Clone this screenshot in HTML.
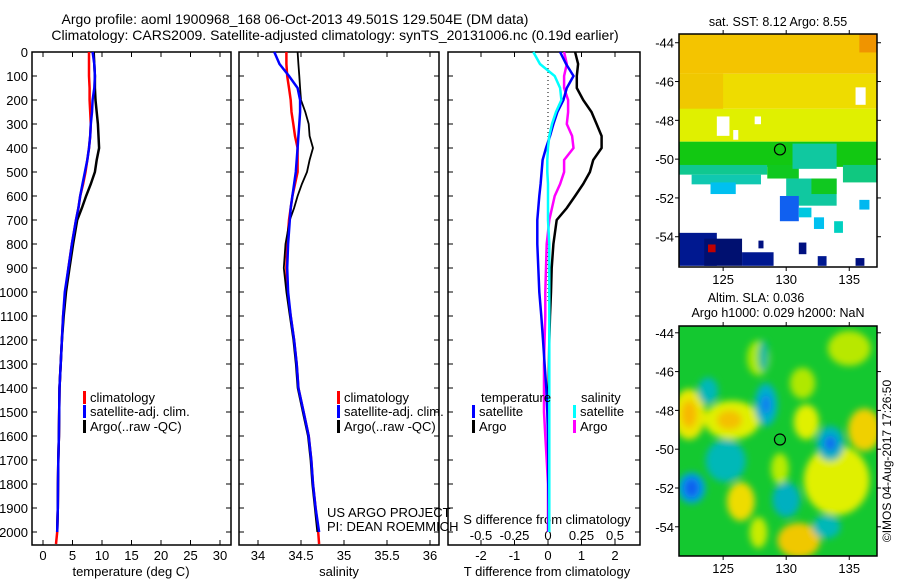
<!DOCTYPE html>
<html><head><meta charset="utf-8"><style>
html,body{margin:0;padding:0;background:#fff;}
svg{display:block;font-family:"Liberation Sans",sans-serif;}
text{font-size:13px;fill:#000;}
</style></head><body>
<svg id="fig" width="900" height="580" viewBox="0 0 900 580" xmlns="http://www.w3.org/2000/svg">
<defs>
<filter id="blur" x="-50%" y="-50%" width="200%" height="200%"><feGaussianBlur stdDeviation="3.5"/></filter>
<clipPath id="clipTop"><rect x="679" y="34" width="198" height="233"/></clipPath>
<clipPath id="clipBot"><rect x="679" y="326" width="198" height="230"/></clipPath>
</defs>
<text x="295" y="24" text-anchor="middle" style="font-size:14px">Argo profile: aoml 1900968_168 06-Oct-2013 49.501S 129.504E (DM data)</text>
<text x="335" y="40" text-anchor="middle" style="font-size:14px">Climatology: CARS2009. Satellite-adjusted climatology: synTS_20131006.nc (0.19d earlier)</text>
</svg>
<script>
// ---- data ----
const depths = [0,50,100,150,200,250,300,350,400,450,500,550,600,650,700,800,900,1000,1100,1200,1300,1400,1500,1600,1700,1800,1900,2000,2050];
const tempClim = [7.8,7.8,7.8,7.9,7.9,8.0,8.1,8.0,7.8,7.5,7.2,6.8,6.3,6.0,5.6,4.9,4.3,3.8,3.4,3.2,3.0,2.8,2.75,2.7,2.6,2.55,2.5,2.4,2.2];
const tempSat = [8.4,8.7,8.8,8.7,8.4,8.3,8.1,8.0,7.8,7.5,7.1,6.7,6.3,6.0,5.6,4.9,4.3,3.7,3.4,3.2,3.0,2.8,2.75,2.7,2.6,2.55,2.5,2.4,null];
const tempArgo = [8.6,8.7,8.8,8.8,8.9,9.1,9.3,9.4,9.5,9.1,8.8,8.1,7.3,6.6,5.8,5.1,4.5,3.9,3.5,3.2,3.0,2.8,2.75,2.7,2.6,2.55,2.5,2.4,null];
const salClim = [34.33,34.33,34.34,34.36,34.38,34.39,34.41,34.43,34.46,34.46,34.46,34.43,34.40,34.38,34.36,34.34,34.33,34.34,34.38,34.42,34.45,34.47,34.53,34.59,34.62,34.64,34.67,34.70,34.71];
const salSat = [34.19,34.25,34.36,34.46,34.49,34.49,34.48,34.47,34.46,34.45,34.44,34.42,34.40,34.38,34.37,34.35,34.34,34.35,34.38,34.42,34.45,34.47,34.53,34.59,34.62,34.64,34.67,34.71,null];
const salArgo = [34.46,34.47,34.48,34.49,34.50,34.55,34.59,34.60,34.64,34.60,34.57,34.51,34.46,34.42,34.37,34.32,34.30,34.33,34.37,34.41,34.44,34.46,34.52,34.58,34.61,34.63,34.66,34.69,null];
const tDiffSat = [0.36,0.54,0.76,0.56,0.46,0.28,0.16,0.06,-0.06,-0.16,-0.19,-0.22,-0.26,-0.29,-0.32,-0.32,-0.29,-0.26,-0.2,-0.15,-0.1,-0.05,-0.02,0,0.01,0.01,0.02,0.02,null];
const tDiffArgo = [0.81,0.9,0.86,0.86,1.05,1.3,1.45,1.6,1.6,1.35,1.25,1.05,0.81,0.56,0.26,0.16,0.11,0.09,0.06,0.04,0.03,0.02,0.02,0.02,0.02,0.02,0.02,0.02,null];
const sDiffSat = [-0.11,-0.06,0.05,0.09,0.1,0.06,0.03,0.01,0,-0.005,-0.005,0,0,0,0,0.01,0.01,0.01,0.01,0.01,0.01,0.01,0.01,0.01,0.01,0.01,0.01,0.01,null];
const sDiffArgo = [0.12,0.14,0.12,0.12,0.15,0.15,0.14,0.18,0.19,0.12,0.12,0.09,0.05,0.03,0.01,-0.01,-0.015,-0.02,-0.02,-0.025,-0.03,-0.03,-0.03,-0.02,-0.01,0,0,0,null];
const depthTicks = [0,100,200,300,400,500,600,700,800,900,1000,1100,1200,1300,1400,1500,1600,1700,1800,1900,2000];
const tempTicks = [0,5,10,15,20,25,30];
const salTicks = [34,34.5,35,35.5,36];
const salTickLabels = ["34","34.5","35","35.5","36"];
const tDiffTicks = [-2,-1,0,1,2];
const sDiffTicks = [-0.5,-0.25,0,0.25,0.5];
const latTicks = [-44,-46,-48,-50,-52,-54];
const lonTicks = [125,130,135];
const argoLon = 129.504, argoLat = -49.501;

// ---- helpers ----
const NS = "http://www.w3.org/2000/svg";
const svg = document.getElementById('fig');
function mk(tag, attrs, parent){const e=document.createElementNS(NS,tag);for(const k in attrs)e.setAttribute(k,attrs[k]);(parent||svg).appendChild(e);return e;}
function txt(x,y,s,anchor,size){const e=mk('text',{x:x,y:y,'text-anchor':anchor||'start'});if(size)e.style.fontSize=size+'px';e.textContent=s;return e;}

const yTop=52, yBot=545;
const yD = d => yTop + d*0.24;
const xT = v => 43 + v*5.9;
const xS = v => 258 + (v-34)*86;
const xTD = v => 548 + v*33.5;
const xSD = v => 548 + v*134;

const panels = [
  {x0:32,x1:231,name:'temperature-panel'},
  {x0:239,x1:439,name:'salinity-panel'},
  {x0:448,x1:640,name:'difference-panel'}
];
panels.forEach((p,i)=>{
  const r = mk('rect',{x:p.x0,y:yTop,width:p.x1-p.x0,height:yBot-yTop,fill:'none',stroke:'#000','stroke-width':1.5});
  
  
  depthTicks.forEach(d=>{
    const y=yD(d);
    const t1=mk('line',{x1:p.x0,x2:p.x0+5,y1:y,y2:y,stroke:'#000'});
    
    
    const t2=mk('line',{x1:p.x1-5,x2:p.x1,y1:y,y2:y,stroke:'#000'});
    
    
  });
});
depthTicks.forEach(d=>{
  const t=txt(28,yD(d)+5,String(d),'end');
  
  
});
function xTicks(vals, labels, fx, p, labelY, topTicks, botTicks, name){
  vals.forEach((v,i)=>{
    const x=fx(v);
    if(botTicks){const l=mk('line',{x1:x,x2:x,y1:yBot-5,y2:yBot,stroke:'#000'});
      
      }
    if(topTicks){const l=mk('line',{x1:x,x2:x,y1:yTop,y2:yTop+5,stroke:'#000'});
      
      }
    if(labelY){const t=txt(x,labelY,labels?labels[i]:String(v),'middle');
      
      }
  });
}
xTicks(tempTicks,null,xT,panels[0],560,true,true,'temperature');
xTicks(salTicks,salTickLabels,xS,panels[1],560,true,true,'salinity');
xTicks(tDiffTicks,null,xTD,panels[2],560,true,true,'t-difference');
xTicks(sDiffTicks,["-0.5","-0.25","0","0.25","0.5"],xSD,panels[2],540,false,false,'s-difference');

let t;
t=txt(131,576,'temperature (deg C)','middle');


t=txt(339,576,'salinity','middle');


t=txt(547,576,'T difference from climatology','middle');


t=txt(547,524,'S difference from climatology','middle');


t=txt(327,517,'US ARGO PROJECT','start');


t=txt(327,531,'PI: DEAN ROEMMICH','start');



// zero line
const zl = mk('line',{x1:xTD(0),x2:xTD(0),y1:yTop,y2:yD(1050),stroke:'#000','stroke-dasharray':'1,3'});



function profile(vals, fx, color, name, w){
  const pts=[];
  vals.forEach((v,i)=>{ if(v!==null) pts.push(fx(v).toFixed(1)+','+yD(depths[i]).toFixed(1)); });
  const pl=mk('polyline',{points:pts.join(' '),fill:'none',stroke:color,'stroke-width':w||2.5,'stroke-linejoin':'miter'});
  
  
}
profile(tempClim,xT,'#ff0000','temperature-climatology-line');
profile(tempArgo,xT,'#000000','temperature-argo-line');
profile(tempSat,xT,'#0000ff','temperature-satellite-line');
profile(salClim,xS,'#ff0000','salinity-climatology-line');
profile(salArgo,xS,'#000000','salinity-argo-line',1.8);
profile(salSat,xS,'#0000ff','salinity-satellite-line');
profile(tDiffArgo,xTD,'#000000','t-diff-argo-line');
profile(sDiffArgo,xSD,'#ff00ff','s-diff-argo-line');
profile(tDiffSat,xTD,'#0000ff','t-diff-satellite-line');
profile(sDiffSat,xSD,'#00ffff','s-diff-satellite-line');

function legendItem(x,y,color,label,name){
  const r=mk('rect',{x:x,y:y-11,width:3,height:13,fill:color});
  
  
  const tt=txt(x+7,y,label,'start');
  
  
}
legendItem(83,402,'#ff0000','climatology','temp-legend-climatology');
legendItem(83,416,'#0000ff','satellite-adj. clim.','temp-legend-satellite');
legendItem(83,431,'#000000','Argo(..raw -QC)','temp-legend-argo');
legendItem(337,402,'#ff0000','climatology','sal-legend-climatology');
legendItem(337,416,'#0000ff','satellite-adj. clim.','sal-legend-satellite');
legendItem(337,431,'#000000','Argo(..raw -QC)','sal-legend-argo');
t=txt(481,402,'temperature','start');


t=txt(581,402,'salinity','start');


legendItem(472,416,'#0000ff','satellite','diff-legend-t-satellite');
legendItem(472,431,'#000000','Argo','diff-legend-t-argo');
legendItem(573,416,'#00ffff','satellite','diff-legend-s-satellite');
legendItem(573,431,'#ff00ff','Argo','diff-legend-s-argo');

// ---- maps ----
const mapX0=679, mapX1=877, lonMin=121.5, lonMax=137.2;
const xL = lon => mapX0 + (lon-lonMin)*(mapX1-mapX0)/(lonMax-lonMin);
function makeMap(top, bottom, latTop, name){
  const yL = lat => top + (latTop-lat)*19.4;
  return {top,bottom,yL,name};
}
const mTop = makeMap(34,267,-43.55,'sst-map');
const mBot = makeMap(326,556,-43.65,'sla-map');

const sstPatches = [
 [121.5,-43.5,137.2,-45.6,'#f4c400'],
 [135.8,-43.5,137.2,-44.5,'#f09400'],
 [121.5,-45.6,137.2,-47.4,'#eedc00'],
 [121.5,-45.6,125,-49,'#f0c800'],
 [121.5,-47.4,137.2,-49.1,'#e0f000'],
 [121.5,-49.1,137.2,-50.4,'#12c812'],
 [121.5,-50.3,128.5,-50.8,'#10c890'],
 [122.5,-50.8,128,-51.3,'#10c8b0'],
 [124,-51.2,126,-51.8,'#00c0f0'],
 [128.5,-50.3,131,-51,'#10c820'],
 [130.5,-49.2,134,-50.5,'#10c8a0'],
 [130,-51,134,-52.4,'#10c8a0'],
 [132,-51,134,-51.8,'#10c820'],
 [134.5,-50.3,137.2,-51.2,'#10c880'],
 [129.5,-51.9,131,-53.2,'#1060f0'],
 [131,-52.5,132,-53,'#00c8e0'],
 [132.2,-53,133,-53.6,'#00c0f0'],
 [133.8,-53.2,134.5,-53.8,'#00d0c0'],
 [135.8,-52.1,136.6,-52.6,'#00b8f0'],
 [121.5,-53.8,124.5,-55.5,'#001890'],
 [123.5,-54.1,126.5,-55.5,'#001070'],
 [126.5,-54.8,129,-55.5,'#001890'],
 [127.8,-54.2,128.2,-54.6,'#001080'],
 [131,-54.3,131.6,-54.9,'#001080'],
 [132.5,-55,133.2,-55.5,'#001890'],
 [123.8,-54.4,124.4,-54.8,'#c00000'],
 [135.5,-55.1,136.2,-55.5,'#001080']
];
sstPatches.forEach(p=>{
  const r=mk('rect',{x:xL(p[0]),y:mTop.yL(p[1]),width:xL(p[2])-xL(p[0]),height:mTop.yL(p[3])-mTop.yL(p[1]),fill:p[4],'clip-path':'url(#clipTop)'});
  
  
});
[[124.5,-47.8,125.5,-48.8],[135.5,-46.3,136.3,-47.2],[127.5,-47.8,128,-48.2],[125.8,-48.5,126.2,-49]].forEach(p=>{
  const r=mk('rect',{x:xL(p[0]),y:mTop.yL(p[1]),width:xL(p[2])-xL(p[0]),height:mTop.yL(p[3])-mTop.yL(p[1]),fill:'#fff'});
  
  
});

const bg=mk('rect',{x:mapX0,y:mBot.top,width:mapX1-mapX0,height:mBot.bottom-mBot.top,fill:'#14c830'});


const g=mk('g',{'clip-path':'url(#clipBot)'});
const gb=mk('g',{filter:'url(#blur)'},g);
const slaBlobs = [
 [122.3,-48.2,1.3,1.3,'#e8e800'],[122.3,-48.2,0.6,0.7,'#f8b800'],
 [125.7,-48.5,2.2,1.0,'#e0f000'],[125.5,-48.5,1.0,0.5,'#f4c000'],
 [131.6,-48.6,1.0,0.9,'#e0f000'],[136.2,-49,1.3,1.1,'#f0d000'],
 [134,-51.6,2.6,1.8,'#e0f000'],[126.4,-52.7,1.1,1.0,'#eedc00'],
 [131,-54.7,1.7,0.9,'#f0c800'],[135,-44.8,1.7,0.9,'#b8e800'],
 [127.8,-45.3,0.9,0.9,'#a8e800'],[131.3,-46.6,1.0,0.8,'#b0e800'],
 [129.5,-51,0.7,0.8,'#b8ec00'],[127.8,-54.3,0.7,0.8,'#c8ec00'],
 [123.8,-47,0.8,0.7,'#00b8b8'],[128.4,-47.7,0.9,1.1,'#00b0c8'],[128.4,-47.7,0.4,0.5,'#1080f0'],
 [133.5,-49.7,1.1,0.9,'#00b0c0'],[133.5,-49.7,0.5,0.4,'#1070f0'],
 [125.2,-50.6,1.6,1.1,'#00b8b8'],[122.5,-52,1.1,0.8,'#00a0e0'],[122.5,-52,0.6,0.5,'#1060f0'],
 [130,-52.6,1.1,0.9,'#00b0c0'],[133.2,-54,1.1,0.6,'#00b8b8'],[128.2,-45.2,0.4,0.8,'#10b8a0']
];
slaBlobs.forEach(b=>{
  const e=mk('ellipse',{cx:xL(b[0]),cy:mBot.yL(b[1]),rx:b[2]*12.6,ry:b[3]*19.4,fill:b[4]},gb);
  
  
});

[mTop,mBot].forEach(m=>{
  const fr=mk('rect',{x:mapX0,y:m.top,width:mapX1-mapX0,height:m.bottom-m.top,fill:'none',stroke:'#000','stroke-width':1.5});
  
  
  latTicks.forEach(lat=>{
    const y=m.yL(lat);
    const a=mk('line',{x1:mapX0-4,x2:mapX0,y1:y,y2:y,stroke:'#000'});
    
    
    const b=mk('line',{x1:mapX1,x2:mapX1+4,y1:y,y2:y,stroke:'#000'});
    
    
    const l=txt(674,y+5,String(lat),'end');
    
    
  });
  lonTicks.forEach(lon=>{
    const x=xL(lon);
    const a=mk('line',{x1:x,x2:x,y1:m.top-4,y2:m.top,stroke:'#000'});
    
    
    const b=mk('line',{x1:x,x2:x,y1:m.bottom,y2:m.bottom+4,stroke:'#000'});
    
    
    const l=txt(x,m.bottom+17,String(lon),'middle');
    
    
  });
  const c=mk('circle',{cx:xL(argoLon),cy:m.yL(argoLat),r:5.5,fill:'none',stroke:'#000','stroke-width':1.2});
  
  
});
t=txt(778,26,'sat. SST: 8.12 Argo: 8.55','middle',12.5);


t=txt(756,302,'Altim. SLA: 0.036','middle',12.5);


t=txt(778,317,'Argo h1000: 0.029 h2000: NaN','middle',12.5);


t=txt(0,0,'©IMOS 04-Aug-2017 17:26:50','middle',12);
t.setAttribute('transform','translate(891,461) rotate(-90)');


</script>
</body></html>
